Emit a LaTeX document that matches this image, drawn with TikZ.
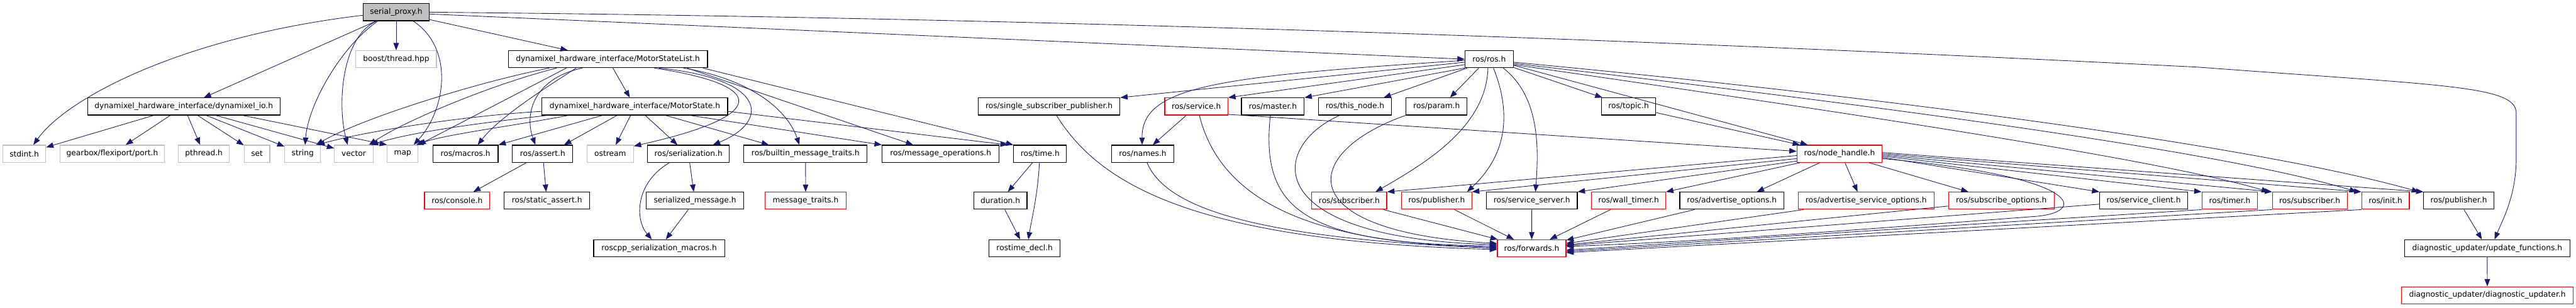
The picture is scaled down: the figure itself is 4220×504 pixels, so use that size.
\documentclass[tikz,border=0pt]{standalone}
\usepackage{fontspec}
\usepackage{xcolor}
\newfontfamily\dvsans{DejaVu Sans}
\definecolor{edgeblue}{HTML}{191970}
\definecolor{extgrey}{HTML}{BFBFBF}
\usepackage{tikz}
\usetikzlibrary{arrows.meta,positioning}
\tikzset{
  hdr/.style={draw, rectangle, font=\dvsans\fontsize{12.6}{14}\selectfont,
              inner xsep=1pt, inner ysep=0pt, minimum height=28, line width=1.1pt},
  hdoc/.style={hdr, draw=black},
  hext/.style={hdr, draw=extgrey},
  htrunc/.style={hdr, draw=red},
  hroot/.style={hdr, draw=black, fill=extgrey},
  inc/.style={-{Triangle[length=12pt,width=9pt]}, draw=edgeblue, line width=0.9pt},
}

\begin{document}
\begin{tikzpicture}[x=1pt, y=1pt]
  \useasboundingbox (0,0) rectangle (4220,-504);
  \node[hroot, minimum width=108] (sp) at (649,-20) {serial\_proxy.h};
  \node[hext, minimum width=132] (boost) at (649,-97) {boost/thread.hpp};
  \node[hdoc, minimum width=326.5] (msl) at (995.8,-97) {dynamixel\_hardware\_interface/MotorStateList.h};
  \node[hdoc, minimum width=79] (rosh) at (2439.5,-97) {ros/ros.h};
  \node[hdoc, minimum width=315] (dio) at (301.1,-174.5) {dynamixel\_hardware\_interface/dynamixel\_io.h};
  \node[hdoc, minimum width=304] (ms) at (1040,-174.5) {dynamixel\_hardware\_interface/MotorState.h};
  \node[hdoc, minimum width=232.3] (ssp) at (1718.6,-174.5) {ros/single\_subscriber\_publisher.h};
  \node[htrunc, minimum width=103.5] (service) at (1959.8,-174.5) {ros/service.h};
  \node[hdoc, minimum width=102.8] (master) at (2085.1,-174.5) {ros/master.h};
  \node[hdoc, minimum width=119.8] (thisnode) at (2219.7,-174.5) {ros/this\_node.h};
  \node[hdoc, minimum width=100.1] (param) at (2353.4,-174.5) {ros/param.h};
  \node[hdoc, minimum width=89] (topic) at (2667.9,-174.5) {ros/topic.h};
  \node[hext, minimum width=70.8] (stdint) at (39.7,-252) {stdint.h};
  \node[hext, minimum width=170.8] (port) at (183.9,-252) {gearbox/flexiport/port.h};
  \node[hext, minimum width=84] (pthread) at (334,-252) {pthread.h};
  \node[hext, minimum width=42] (stlset) at (421,-252) {set};
  \node[hext, minimum width=58.4] (stlstring) at (495.8,-252) {string};
  \node[hext, minimum width=63] (stlvector) at (579.5,-252) {vector};
  \node[hext, minimum width=50.6] (stlmap) at (659.7,-252) {map};
  \node[hdoc, minimum width=107] (macros) at (762.5,-252) {ros/macros.h};
  \node[hdoc, minimum width=99] (assert) at (889,-252) {ros/assert.h};
  \node[hext, minimum width=76] (ostream) at (999.7,-252) {ostream};
  \node[hdoc, minimum width=134.4] (ser) at (1127.8,-252) {ros/serialization.h};
  \node[hdoc, minimum width=202] (builtin) at (1319.6,-252) {ros/builtin\_message\_traits.h};
  \node[hdoc, minimum width=192] (msgops) at (1541,-252) {ros/message\_operations.h};
  \node[hdoc, minimum width=86.4] (time) at (1703.8,-252) {ros/time.h};
  \node[hdoc, minimum width=102.8] (names) at (1872,-252) {ros/names.h};
  \node[htrunc, minimum width=139.3] (nh) at (3013.4,-252) {ros/node\_handle.h};
  \node[htrunc, minimum width=107] (console) at (748.9,-329) {ros/console.h};
  \node[hdoc, minimum width=140.3] (sassert) at (896,-329) {ros/static\_assert.h};
  \node[hdoc, minimum width=160.3] (sermsg) at (1138.5,-329) {serialized\_message.h};
  \node[htrunc, minimum width=133.6] (msgtraits) at (1319.8,-329) {message\_traits.h};
  \node[hdoc, minimum width=87.4] (duration) at (1638.7,-329) {duration.h};
  \node[htrunc, minimum width=122.7] (sub) at (2210.4,-329) {ros/subscriber.h};
  \node[htrunc, minimum width=115] (pub) at (2353.4,-329) {ros/publisher.h};
  \node[hdoc, minimum width=149] (srvsrv) at (2509.4,-329) {ros/service\_server.h};
  \node[htrunc, minimum width=121.4] (walltimer) at (2668,-329) {ros/wall\_timer.h};
  \node[hdoc, minimum width=170.4] (advopts) at (2837,-329) {ros/advertise\_options.h};
  \node[htrunc, minimum width=222.8] (advsrvopts) at (3057,-329) {ros/advertise\_service\_options.h};
  \node[htrunc, minimum width=173.6] (subopts) at (3278.6,-329) {ros/subscribe\_options.h};
  \node[hdoc, minimum width=144] (srvcli) at (3511.7,-329) {ros/service\_client.h};
  \node[htrunc, minimum width=91.5] (timer) at (3652.8,-329) {ros/timer.h};
  \node[htrunc, minimum width=122.4] (subb) at (3783.8,-329) {ros/subscriber.h};
  \node[htrunc, minimum width=78] (init) at (3907.9,-329) {ros/init.h};
  \node[hdoc, minimum width=114.5] (pubb) at (4027.8,-329) {ros/publisher.h};
  \node[hdoc, minimum width=214.5] (rsm) at (1079.8,-407) {roscpp\_serialization\_macros.h};
  \node[hdoc, minimum width=116.3] (decl) at (1678.5,-407) {rostime\_decl.h};
  \node[htrunc, minimum width=112.3] (fwd) at (2509.2,-407) {ros/forwards.h};
  \node[hdoc, minimum width=271] (updfn) at (4074.5,-407) {diagnostic\_updater/update\_functions.h};
  \node[htrunc, minimum width=282] (diag) at (4074.7,-484) {diagnostic\_updater/diagnostic\_updater.h};

  % serial_proxy.h
  \draw[inc] ([yshift=-5]sp.west) .. controls (300,-60) and (110,-160) .. ([xshift=15]stdint.north);
  \draw[inc] (sp) -- (dio);
  \draw[inc] ([xshift=-30]sp.south) .. controls (560,-75) and (505,-170) .. ([xshift=4]stlstring.north);
  \draw[inc] ([xshift=-32]sp.south) .. controls (560,-60) and (552,-170) .. ([xshift=-10]stlvector.north);
  \draw[inc] (sp) -- (boost);
  \draw[inc] ([xshift=28]sp.south) .. controls (745,-80) and (730,-180) .. ([xshift=18]stlmap.north);
  \draw[inc] (sp) -- (msl);
  \draw[inc] ([yshift=-3]sp.east) -- (rosh.west);
  \draw[inc] (sp.east) .. controls (1800,-30) and (2800,-70) .. (3600,-110)
    .. controls (4000,-140) and (4122,-140) .. (4122,-185) -- (4122,-260)
    .. controls (4122,-320) and (4100,-360) .. ([xshift=12]updfn.north);

  % dynamixel_io.h
  \draw[inc] (dio) -- (stdint);
  \draw[inc] (dio) -- (port);
  \draw[inc] (dio) -- (pthread);
  \draw[inc] (dio) -- (stlset);
  \draw[inc] (dio) -- (stlstring);
  \draw[inc] (dio) -- (stlvector);
  \draw[inc] ([xshift=96]dio.south) -- (stlmap.north west);

  % MotorStateList.h
  \draw[inc] (msl) -- (ms);
  \draw[inc] ([xshift=-96]msl.south) .. controls (780,-135) and (590,-195) .. ([xshift=22]stlstring.north);
  \draw[inc] ([xshift=-84]msl.south) .. controls (800,-140) and (660,-200) .. ([xshift=25]stlvector.north);
  \draw[inc] ([xshift=-68]msl.south) -- (stlmap.north east);
  \draw[inc] ([xshift=-52]msl.south) .. controls (900,-140) and (820,-190) .. ([xshift=20]macros.north);
  \draw[inc] ([xshift=-42]msl.south) .. controls (870,-130) and (860,-190) .. ([xshift=-12]assert.north);
  \draw[inc] ([xshift=76]msl.south) .. controls (1260,-140) and (1260,-190) .. ([yshift=-2]ostream.north east);
  \draw[inc] ([xshift=84]msl.south) .. controls (1260,-130) and (1260,-200) .. ([xshift=40]ser.north);
  \draw[inc] ([xshift=124]msl.south) .. controls (1230,-130) and (1290,-180) .. ([xshift=-10]builtin.north);
  \draw[inc] ([xshift=130]msl.south) -- ([xshift=-45]msgops.north);
  \draw[inc] ([xshift=-8]msl.south east) -- (time.north west);

  % MotorState.h
  \draw[inc] ([yshift=-8]ms.west) .. controls (760,-190) and (600,-215) .. ([xshift=24]stlstring.north);
  \draw[inc] ([xshift=10]ms.south west) .. controls (800,-200) and (680,-215) .. ([xshift=28]stlvector.north);
  \draw[inc] ([xshift=44]ms.south west) .. controls (850,-205) and (730,-220) .. ([xshift=22]stlmap.north);
  \draw[inc] ([xshift=-53]ms.south) -- (macros.north east);
  \draw[inc] ([xshift=-29]ms.south) -- ([xshift=35]assert.north);
  \draw[inc] ([xshift=-7]ms.south) -- ([xshift=9]ostream.north);
  \draw[inc] ([xshift=17]ms.south) -- ([xshift=-18]ser.north);
  \draw[inc] ([xshift=50]ms.south) -- ([xshift=-60]builtin.north);
  \draw[inc] ([xshift=90]ms.south) -- (msgops.north west);
  \draw[inc] ([yshift=-8]ms.east) -- ([xshift=-53]time.north);

  \draw[inc] (assert) -- (console);
  \draw[inc] (assert) -- (sassert);
  \draw[inc] (ser) -- (sermsg);
  \draw[inc] ([xshift=-31]ser.south) .. controls (1040,-300) and (1040,-360) .. ([xshift=-12]rsm.north);
  \draw[inc] (sermsg) -- (rsm);
  \draw[inc] (builtin) -- (msgtraits);
  \draw[inc] (time) -- (duration);
  \draw[inc] ([xshift=-1]time.south) .. controls (1700,-320) and (1690,-360) .. ([xshift=6]decl.north);
  \draw[inc] (duration) -- (decl);

  % ros/ros.h
  \draw[inc] ([yshift=-5]rosh.west) -- (ssp.north east);
  \draw[inc] ([yshift=-9]rosh.west) -- (service.north east);
  \draw[inc] (rosh.south west) -- (master.north east);
  \draw[inc] ([xshift=4]rosh.south west) -- ([xshift=47]thisnode.north);
  \draw[inc] ([xshift=-17]rosh.south) -- ([xshift=22]param.north);
  \draw[inc] ([yshift=-2]rosh.west) .. controls (2000,-125) and (1870,-140) .. ([xshift=-1]names.north);
  \draw[inc] ([xshift=-2]rosh.south) .. controls (2435,-210) and (2330,-270) .. ([xshift=43]sub.north);
  \draw[inc] ([xshift=7]rosh.south) .. controls (2490,-220) and (2440,-280) .. ([xshift=50]pub.north);
  \draw[inc] ([xshift=23]rosh.south) .. controls (2525,-160) and (2520,-250) .. ([xshift=6]srvsrv.north);
  \draw[inc] (rosh) -- (topic);
  \draw[inc] ([yshift=-10]rosh.east) -- ([xshift=-52]nh.north);
  \draw[inc] ([yshift=-5]rosh.east) .. controls (3100,-160) and (3700,-240) .. ([xshift=-65]pubb.north);
  \draw[inc] ([yshift=-7]rosh.east) .. controls (3100,-175) and (3650,-250) .. ([xshift=-47]init.north);
  \draw[inc] ([yshift=-9]rosh.east) .. controls (3100,-195) and (3550,-265) .. ([xshift=-67]subb.north);

  \draw[inc] (service) -- (names);
  \draw[inc] ([xshift=5]service.south) .. controls (2000,-330) and (2150,-400) .. ([yshift=2]fwd.west);
  \draw[inc] ([yshift=-13]service.east) -- ([yshift=4]nh.west);
  \draw[inc] ([xshift=-4]master.south) .. controls (2065,-340) and (2130,-400) .. ([yshift=4]fwd.west);
  \draw[inc] ([xshift=-25]thisnode.south) .. controls (2080,-240) and (2060,-390) .. ([yshift=6]fwd.west);
  \draw[inc] (param.south west) .. controls (2130,-250) and (2110,-380) .. ([yshift=8]fwd.west);
  \draw[inc] ([xshift=7]names.south) .. controls (1910,-340) and (2050,-390) .. (fwd.west);
  \draw[inc] ([xshift=12]ssp.south) .. controls (1800,-300) and (1950,-395) .. ([yshift=-2]fwd.west);
  \draw[inc] (topic) -- (nh);

  % ros/node_handle.h
  \draw[inc] ([yshift=-3]nh.west) -- (sub.north east);
  \draw[inc] ([yshift=-8]nh.west) -- (pub.north east);
  \draw[inc] ([yshift=-12]nh.west) -- (srvsrv.north east);
  \draw[inc] ([xshift=6]nh.south west) -- (walltimer.north east);
  \draw[inc] ([xshift=-32]nh.south) -- ([xshift=41]advopts.north);
  \draw[inc] ([xshift=9]nh.south) -- ([xshift=-14]advsrvopts.north);
  \draw[inc] ([xshift=48]nh.south) -- ([xshift=-54]subopts.north);
  \draw[inc] ([yshift=-6]nh.east) -- (srvcli.north west);
  \draw[inc] ([yshift=-4]nh.east) -- (timer.north west);
  \draw[inc] ([yshift=-2]nh.east) -- (subb.north west);
  \draw[inc] (nh.east) -- (init.north west);
  \draw[inc] ([yshift=2]nh.east) -- (pubb.north west);
  \draw[inc] ([yshift=-8]nh.east) .. controls (3420,-290) and (3420,-350) .. (3330,-355)
    .. controls (3000,-380) and (2800,-395) .. ([yshift=3]fwd.east);

  % into ros/forwards.h
  \draw[inc] (sub) -- (fwd);
  \draw[inc] (pub) -- (fwd);
  \draw[inc] (srvsrv) -- (fwd);
  \draw[inc] (walltimer) -- (fwd);
  \draw[inc] (advopts) -- (fwd);
  \draw[inc] (advsrvopts) -- (fwd);
  \draw[inc] (subopts) -- (fwd);
  \draw[inc] (srvcli) -- (fwd);
  \draw[inc] (timer.south west) -- ([yshift=-3]fwd.east);
  \draw[inc] (subb.south west) -- ([yshift=-5]fwd.east);
  \draw[inc] (init.south west) -- ([yshift=-7]fwd.east);

  \draw[inc] (pubb) -- (updfn);
  \draw[inc] (updfn) -- (diag);
\end{tikzpicture}
\end{document}
